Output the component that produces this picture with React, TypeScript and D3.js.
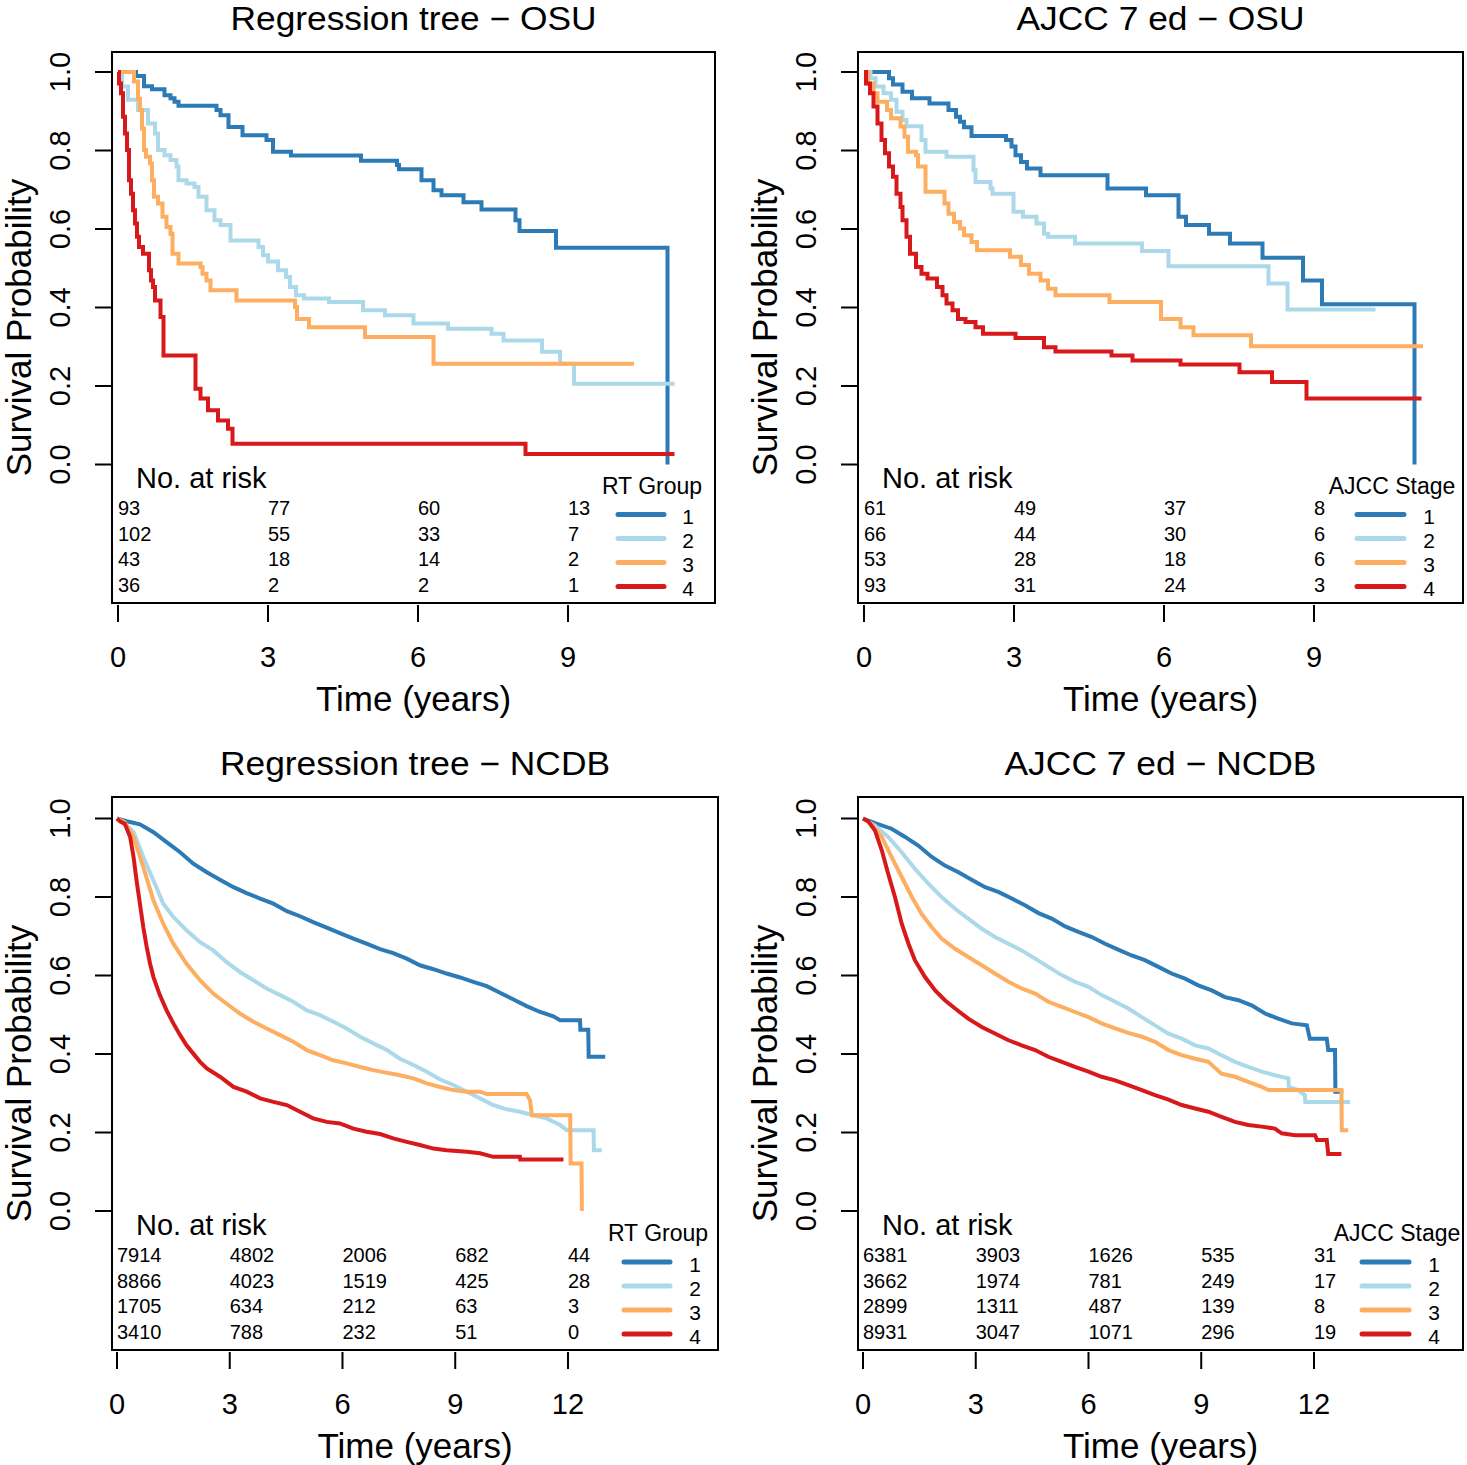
import React from 'react';
import * as d3 from 'd3';

type Pt = [number, number];

// ---------- OSU: Regression tree groups (Kaplan-Meier steps) ----------
const osuRT1: Pt[] = [[0,1],[0.36,0.99],[0.52,0.964],[0.68,0.956],[0.93,0.941],[1.05,0.933],[1.13,0.924],[1.21,0.914],[1.97,0.903],[2.05,0.89],[2.21,0.86],[2.49,0.839],[2.97,0.827],[3.1,0.797],[3.46,0.787],[4.86,0.774],[5.58,0.763],[5.62,0.752],[6.07,0.724],[6.31,0.699],[6.47,0.686],[6.91,0.668],[7.27,0.65],[7.95,0.622],[8.03,0.595],[8.76,0.552],[10.99,0]];
const osuRT2: Pt[] = [[0,1],[0.08,0.963],[0.2,0.929],[0.4,0.903],[0.6,0.869],[0.74,0.843],[0.8,0.801],[0.93,0.788],[1.05,0.776],[1.17,0.759],[1.21,0.724],[1.37,0.716],[1.53,0.707],[1.61,0.682],[1.77,0.648],[1.93,0.622],[2.05,0.61],[2.25,0.571],[2.81,0.554],[2.9,0.533],[3.0,0.517],[3.2,0.495],[3.36,0.478],[3.44,0.452],[3.56,0.431],[3.72,0.423],[4.22,0.414],[4.9,0.393],[5.34,0.38],[5.91,0.359],[6.6,0.346],[7.47,0.333],[7.71,0.316],[8.48,0.287],[8.84,0.257],[9.12,0.206],[11.13,0.206]];
const osuRT3: Pt[] = [[0,1],[0.32,0.976],[0.4,0.932],[0.44,0.903],[0.48,0.856],[0.52,0.801],[0.56,0.784],[0.64,0.767],[0.68,0.724],[0.72,0.682],[0.8,0.665],[0.89,0.631],[0.97,0.605],[1.05,0.588],[1.09,0.537],[1.21,0.512],[1.65,0.503],[1.69,0.486],[1.77,0.469],[1.85,0.444],[2.37,0.418],[3.54,0.401],[3.58,0.371],[3.82,0.35],[4.94,0.325],[6.31,0.257],[10.32,0.257]];
const osuRT4: Pt[] = [[0,1],[0.02,0.971],[0.06,0.946],[0.1,0.886],[0.14,0.843],[0.18,0.801],[0.22,0.724],[0.26,0.69],[0.3,0.648],[0.34,0.614],[0.38,0.58],[0.42,0.554],[0.5,0.537],[0.62,0.495],[0.66,0.469],[0.7,0.452],[0.74,0.418],[0.85,0.376],[0.91,0.278],[1.55,0.193],[1.65,0.168],[1.8,0.138],[2.0,0.112],[2.2,0.091],[2.29,0.053],[8.15,0.027],[11.13,0.027]];

// ---------- OSU: AJCC 7th edition stages ----------
const osuAJ1: Pt[] = [[0,1],[0.5,0.984],[0.58,0.968],[0.77,0.95],[0.96,0.933],[1.31,0.92],[1.69,0.903],[1.84,0.886],[1.92,0.873],[2.0,0.859],[2.15,0.837],[2.84,0.827],[2.95,0.81],[3.03,0.788],[3.14,0.771],[3.26,0.754],[3.53,0.737],[4.87,0.703],[5.64,0.686],[6.29,0.631],[6.44,0.61],[6.9,0.588],[7.32,0.563],[7.97,0.527],[8.78,0.469],[9.16,0.408],[11.01,0]];
const osuAJ2: Pt[] = [[0,1],[0.13,0.984],[0.23,0.963],[0.39,0.946],[0.54,0.929],[0.65,0.899],[0.77,0.878],[0.85,0.862],[1.15,0.827],[1.23,0.797],[1.65,0.784],[2.19,0.75],[2.23,0.72],[2.53,0.703],[2.57,0.69],[2.99,0.644],[3.18,0.631],[3.45,0.614],[3.6,0.588],[3.68,0.58],[4.22,0.563],[5.56,0.544],[6.09,0.505],[8.09,0.461],[8.47,0.395],[10.23,0.395]];
const osuAJ3: Pt[] = [[0,1],[0.08,0.971],[0.19,0.946],[0.27,0.924],[0.46,0.903],[0.54,0.882],[0.73,0.861],[0.81,0.835],[0.88,0.797],[1.04,0.788],[1.08,0.759],[1.23,0.695],[1.61,0.665],[1.69,0.639],[1.8,0.618],[1.92,0.601],[2.0,0.584],[2.15,0.567],[2.26,0.546],[2.92,0.529],[3.14,0.508],[3.3,0.486],[3.53,0.469],[3.68,0.448],[3.83,0.431],[4.91,0.414],[5.94,0.371],[6.33,0.35],[6.59,0.329],[7.74,0.301],[11.18,0.301]];
const osuAJ4: Pt[] = [[0,1],[0.04,0.971],[0.12,0.946],[0.19,0.912],[0.27,0.869],[0.35,0.827],[0.42,0.793],[0.5,0.759],[0.58,0.733],[0.65,0.69],[0.73,0.656],[0.77,0.622],[0.85,0.58],[0.92,0.537],[1.04,0.503],[1.15,0.486],[1.27,0.474],[1.46,0.452],[1.57,0.431],[1.65,0.41],[1.77,0.393],[1.88,0.371],[2.03,0.363],[2.23,0.35],[2.38,0.333],[3.03,0.322],[3.6,0.299],[3.83,0.288],[4.95,0.278],[5.37,0.265],[6.33,0.255],[7.51,0.235],[8.16,0.21],[8.85,0.168],[11.15,0.168]];

// ---------- NCDB: Regression tree groups ----------
const ncdbRT1: Pt[] = [[0,1],[0.26,0.993],[0.61,0.985],[0.97,0.965],[1.32,0.94],[1.68,0.914],[2.03,0.885],[2.39,0.863],[2.74,0.844],[3.1,0.825],[3.45,0.81],[3.81,0.796],[4.16,0.783],[4.52,0.764],[4.87,0.751],[5.22,0.736],[5.58,0.722],[5.93,0.708],[6.29,0.694],[6.64,0.681],[7.0,0.667],[7.35,0.657],[7.71,0.643],[8.06,0.626],[8.42,0.616],[8.77,0.605],[9.13,0.595],[9.48,0.584],[9.84,0.573],[10.19,0.556],[10.55,0.539],[10.9,0.522],[11.26,0.507],[11.61,0.496],[11.79,0.486],[12.32,0.486],[12.33,0.462],[12.54,0.462],[12.55,0.393],[12.99,0.393]];
const ncdbRT2: Pt[] = [[0,1],[0.17,0.991],[0.44,0.966],[0.7,0.902],[0.97,0.842],[1.23,0.783],[1.5,0.749],[1.85,0.715],[2.21,0.685],[2.56,0.664],[2.92,0.634],[3.27,0.609],[3.63,0.588],[3.98,0.567],[4.34,0.55],[4.69,0.533],[5.05,0.511],[5.4,0.499],[5.76,0.482],[6.11,0.465],[6.47,0.444],[6.82,0.427],[7.18,0.41],[7.53,0.388],[7.89,0.372],[8.24,0.355],[8.6,0.335],[8.95,0.321],[9.31,0.304],[9.66,0.287],[10.01,0.27],[10.37,0.259],[10.72,0.253],[11.08,0.244],[11.43,0.236],[11.79,0.219],[11.97,0.206],[12.68,0.206],[12.69,0.155],[12.9,0.155]];
const ncdbRT3: Pt[] = [[0,1],[0.2,0.991],[0.44,0.953],[0.7,0.876],[0.97,0.791],[1.23,0.732],[1.5,0.681],[1.85,0.63],[2.21,0.588],[2.56,0.554],[2.92,0.528],[3.27,0.503],[3.63,0.482],[3.98,0.465],[4.34,0.448],[4.69,0.431],[5.05,0.41],[5.4,0.397],[5.76,0.384],[6.11,0.376],[6.47,0.367],[6.82,0.359],[7.18,0.352],[7.53,0.346],[7.89,0.338],[8.24,0.325],[8.6,0.316],[8.95,0.308],[9.31,0.304],[9.66,0.304],[9.84,0.298],[10.9,0.298],[10.99,0.282],[11.04,0.244],[12.06,0.244],[12.07,0.121],[12.36,0.121],[12.37,0.0]];
const ncdbRT4: Pt[] = [[0,1],[0.08,0.993],[0.21,0.986],[0.35,0.953],[0.44,0.902],[0.52,0.842],[0.61,0.783],[0.7,0.723],[0.79,0.673],[0.88,0.63],[0.97,0.596],[1.14,0.55],[1.32,0.511],[1.5,0.478],[1.68,0.448],[1.85,0.422],[2.03,0.401],[2.21,0.38],[2.39,0.363],[2.74,0.342],[3.1,0.316],[3.45,0.304],[3.81,0.287],[4.16,0.278],[4.52,0.27],[4.87,0.253],[5.22,0.236],[5.58,0.227],[5.93,0.223],[6.29,0.21],[6.64,0.202],[7.0,0.196],[7.35,0.185],[7.71,0.176],[8.06,0.168],[8.42,0.159],[8.77,0.155],[9.31,0.151],[9.66,0.147],[10.01,0.138],[10.72,0.138],[10.73,0.131],[11.88,0.131]];

// ---------- NCDB: AJCC 7th edition stages ----------
const ncdbAJ1: Pt[] = [[0,1],[0.32,0.988],[0.76,0.974],[1.12,0.953],[1.47,0.931],[1.83,0.902],[2.18,0.88],[2.54,0.863],[2.89,0.844],[3.25,0.825],[3.6,0.813],[3.96,0.796],[4.31,0.779],[4.67,0.759],[5.02,0.745],[5.38,0.725],[5.73,0.711],[6.09,0.698],[6.44,0.681],[6.79,0.666],[7.15,0.651],[7.5,0.639],[7.86,0.622],[8.21,0.605],[8.57,0.592],[8.92,0.575],[9.28,0.562],[9.63,0.545],[9.99,0.537],[10.34,0.524],[10.7,0.503],[11.05,0.49],[11.41,0.478],[11.81,0.473],[11.85,0.456],[11.89,0.439],[12.34,0.439],[12.38,0.41],[12.56,0.41],[12.57,0.304],[12.78,0.304]];
const ncdbAJ2: Pt[] = [[0,1],[0.32,0.982],[0.67,0.953],[1.03,0.914],[1.38,0.872],[1.74,0.834],[2.09,0.8],[2.45,0.77],[2.8,0.745],[3.16,0.719],[3.51,0.698],[3.87,0.681],[4.22,0.664],[4.58,0.643],[4.93,0.622],[5.29,0.601],[5.64,0.584],[6.0,0.571],[6.35,0.55],[6.71,0.533],[7.06,0.516],[7.42,0.494],[7.77,0.473],[8.13,0.452],[8.48,0.439],[8.84,0.422],[9.19,0.414],[9.54,0.397],[9.9,0.38],[10.25,0.367],[10.61,0.355],[10.96,0.346],[11.32,0.338],[11.33,0.316],[11.58,0.308],[11.76,0.295],[11.77,0.278],[12.96,0.278]];
const ncdbAJ3: Pt[] = [[0,1],[0.23,0.986],[0.5,0.953],[0.76,0.902],[1.03,0.851],[1.3,0.8],[1.56,0.757],[1.83,0.723],[2.09,0.694],[2.45,0.668],[2.8,0.647],[3.16,0.626],[3.51,0.605],[3.87,0.584],[4.22,0.567],[4.58,0.554],[4.93,0.533],[5.29,0.52],[5.64,0.507],[6.0,0.494],[6.35,0.478],[6.71,0.465],[7.06,0.454],[7.42,0.444],[7.77,0.431],[8.13,0.41],[8.48,0.397],[8.84,0.388],[9.19,0.38],[9.54,0.35],[9.9,0.342],[10.25,0.329],[10.61,0.316],[10.79,0.308],[12.73,0.308],[12.74,0.206],[12.91,0.206]];
const ncdbAJ4: Pt[] = [[0,1],[0.14,0.993],[0.32,0.969],[0.5,0.919],[0.67,0.859],[0.85,0.8],[1.03,0.732],[1.21,0.681],[1.38,0.639],[1.65,0.596],[1.92,0.562],[2.18,0.537],[2.45,0.516],[2.8,0.49],[3.16,0.469],[3.51,0.452],[3.87,0.435],[4.22,0.422],[4.58,0.41],[4.93,0.393],[5.29,0.38],[5.64,0.367],[6.0,0.355],[6.35,0.342],[6.71,0.333],[7.06,0.321],[7.42,0.308],[7.77,0.295],[8.13,0.284],[8.48,0.27],[8.84,0.261],[9.19,0.253],[9.54,0.24],[9.9,0.227],[10.25,0.219],[10.61,0.215],[10.96,0.21],[11.14,0.198],[11.5,0.193],[12.03,0.193],[12.08,0.181],[12.34,0.181],[12.38,0.145],[12.73,0.145]];

// ---------- Numbers at risk ----------
const riskOsuRT = [[93, 77, 60, 13], [102, 55, 33, 7], [43, 18, 14, 2], [36, 2, 2, 1]];
const riskOsuAJ = [[61, 49, 37, 8], [66, 44, 30, 6], [53, 28, 18, 6], [93, 31, 24, 3]];
const riskNcdbRT = [[7914, 4802, 2006, 682, 44], [8866, 4023, 1519, 425, 28], [1705, 634, 212, 63, 3], [3410, 788, 232, 51, 0]];
const riskNcdbAJ = [[6381, 3903, 1626, 535, 31], [3662, 1974, 781, 249, 17], [2899, 1311, 487, 139, 8], [8931, 3047, 1071, 296, 19]];

// ---------- Ticks / labels ----------
const xTicksOsu = [0, 3, 6, 9];
const xTicksNcdb = [0, 3, 6, 9, 12];
const yTicks = [0, 0.2, 0.4, 0.6, 0.8, 1.0];
const groupLabels = ['1', '2', '3', '4'];
const titles = ['Regression tree \u2212 OSU', 'AJCC 7 ed \u2212 OSU', 'Regression tree \u2212 NCDB', 'AJCC 7 ed \u2212 NCDB'];
const legendTitles = ['RT Group', 'AJCC Stage', 'RT Group', 'AJCC Stage'];
const COLORS = ['#2C7BB6', '#ABD9E9', '#FDAE61', '#D7191C'];

const FONT = '"Liberation Sans", Arial, Helvetica, sans-serif';

interface PanelCfg {
  title: string;
  titleW: number;
  legendTitle: string;
  series: Pt[][];
  risk: number[][];
  xTicks: number[];
  xMax: number;
  xr: [number, number];
  step: boolean;
  x0: number; x1: number; y0: number; y1: number;
  lg: { l0: number; l1: number; lab: number; tit: number; row0: number };
  riskRow0: number;
}

const panels: PanelCfg[] = [
  { title: titles[0], titleW: 366, legendTitle: legendTitles[0], series: [osuRT1, osuRT2, osuRT3, osuRT4], risk: riskOsuRT, xTicks: xTicksOsu, xMax: 12, xr: [118, 718], step: true,
    x0: 112, x1: 715, y0: 52, y1: 603, lg: { l0: -97, l1: -51, lab: -27, tit: -63, row0: -88.5 }, riskRow0: -95 },
  { title: titles[1], titleW: 288, legendTitle: legendTitles[1], series: [osuAJ1, osuAJ2, osuAJ3, osuAJ4], risk: riskOsuAJ, xTicks: xTicksOsu, xMax: 12, xr: [864, 1464], step: true,
    x0: 858, x1: 1463, y0: 52, y1: 603, lg: { l0: -106, l1: -59, lab: -34, tit: -71, row0: -88.5 }, riskRow0: -95 },
  { title: titles[2], titleW: 390, legendTitle: legendTitles[2], series: [ncdbRT1, ncdbRT2, ncdbRT3, ncdbRT4], risk: riskNcdbRT, xTicks: xTicksNcdb, xMax: 16, xr: [117, 718.3], step: false,
    x0: 112, x1: 718, y0: 797, y1: 1350, lg: { l0: -94, l1: -48, lab: -23, tit: -60, row0: -88 }, riskRow0: -95 },
  { title: titles[3], titleW: 312, legendTitle: legendTitles[3], series: [ncdbAJ1, ncdbAJ2, ncdbAJ3, ncdbAJ4], risk: riskNcdbAJ, xTicks: xTicksNcdb, xMax: 16, xr: [863, 1464.3], step: false,
    x0: 858, x1: 1463, y0: 797, y1: 1350, lg: { l0: -101, l1: -54, lab: -29, tit: -66, row0: -88 }, riskRow0: -95 },
];

function Panel({ cfg }: { cfg: PanelCfg }) {
  const { x0, x1, y0, y1 } = cfg;
  const x = d3.scaleLinear().domain([0, cfg.xMax]).range(cfg.xr);
  const yBottom = y0 < 100 ? 464.5 : 1211;
  const y = d3.scaleLinear().domain([0, 1]).range([yBottom, yBottom - 392.5]);
  const line = d3.line<Pt>()
    .x((d) => x(d[0]))
    .y((d) => y(d[1]))
    .curve(cfg.step ? d3.curveStepAfter : d3.curveLinear);
  const fmt = d3.format('.1f');
  const midY = (y0 + y1) / 2;
  const midX = (x0 + x1) / 2;
  return (
    <g fontFamily={FONT} fill="#000">
      {/* title */}
      <text x={midX} y={y0 - 22} textAnchor="middle" fontSize={33}
        textLength={cfg.titleW} lengthAdjust="spacingAndGlyphs">{cfg.title}</text>
      {/* curves */}
      {cfg.series.map((s, i) => (
        <path key={i} d={line(s) || ''} fill="none" stroke={COLORS[i]} strokeWidth={4}
          strokeLinejoin="miter" strokeLinecap="butt" />
      ))}
      {/* box */}
      <rect x={x0} y={y0} width={x1 - x0} height={y1 - y0} fill="none" stroke="#000" strokeWidth={2} />
      {/* y axis */}
      {yTicks.map((t) => (
        <g key={t}>
          <line x1={x0 - 17} x2={x0} y1={y(t)} y2={y(t)} stroke="#000" strokeWidth={2} />
          <text transform={`translate(${x0 - 52},${y(t)}) rotate(-90)`} textAnchor="middle"
            dominantBaseline="central" fontSize={29}>{fmt(t)}</text>
        </g>
      ))}
      <text transform={`translate(${x0 - 94},${midY}) rotate(-90)`} textAnchor="middle"
        dominantBaseline="central" fontSize={35}>Survival Probability</text>
      {/* x axis */}
      {cfg.xTicks.map((t) => (
        <g key={t}>
          <line x1={x(t)} x2={x(t)} y1={y1 + 2} y2={y1 + 19} stroke="#000" strokeWidth={2} />
          <text x={x(t)} y={y1 + 54} textAnchor="middle" dominantBaseline="central" fontSize={29}>{t}</text>
        </g>
      ))}
      <text x={midX} y={y1 + 95} textAnchor="middle" dominantBaseline="central" fontSize={35}>Time (years)</text>
      {/* numbers at risk */}
      <text x={x0 + 24} y={y1 - 125} dominantBaseline="central" fontSize={29}>No. at risk</text>
      {cfg.risk.map((row, r) => row.map((v, c) => (
        <text key={`${r}-${c}`} x={x(cfg.xTicks[c])} y={y1 + cfg.riskRow0 + r * 25.7}
          dominantBaseline="central" fontSize={20}>{v}</text>
      )))}
      {/* legend */}
      <text x={x1 + cfg.lg.tit} y={y1 - 117} textAnchor="middle" dominantBaseline="central" fontSize={23}>{cfg.legendTitle}</text>
      {groupLabels.map((g, i) => (
        <g key={g}>
          <line x1={x1 + cfg.lg.l0} x2={x1 + cfg.lg.l1} y1={y1 + cfg.lg.row0 + i * 24} y2={y1 + cfg.lg.row0 + i * 24}
            stroke={COLORS[i]} strokeWidth={5} strokeLinecap="round" />
          <text x={x1 + cfg.lg.lab} y={y1 + cfg.lg.row0 + i * 24 + 2} textAnchor="middle" dominantBaseline="central" fontSize={21}>{g}</text>
        </g>
      ))}
    </g>
  );
}

export default function App() {
  return (
    <svg width={1467} height={1465} viewBox="0 0 1467 1465"
      style={{ position: 'absolute', left: 0, top: 0, background: '#fff' }}>
      <rect x={0} y={0} width={1467} height={1465} fill="#fff" />
      {panels.map((p, i) => <Panel key={i} cfg={p} />)}
    </svg>
  );
}
